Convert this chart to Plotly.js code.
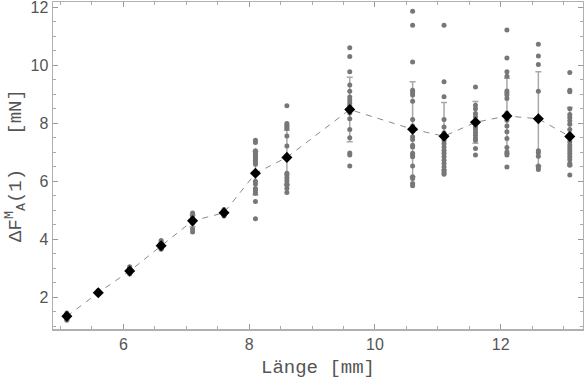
<!DOCTYPE html>
<html>
<head>
<meta charset="utf-8">
<script src="https://cdn.plot.ly/plotly-3.0.1.min.js"></script>
<style>html,body{margin:0;padding:0;background:#fff;}</style>
</head>
<body>
<div id="chart" style="width:584px;height:382px;"></div>
<script>
// Lengths (mm) where measurements were taken
const lengths = [5.1, 5.6, 6.1, 6.6, 7.1, 7.6, 8.1, 8.6, 9.6, 10.6, 11.1, 11.6, 12.1, 12.6, 13.1];
// Mean force change (mN) per length
const means = [1.34, 2.15, 2.90, 3.77, 4.63, 4.91, 6.27, 6.82, 8.47, 7.79, 7.55, 8.03, 8.25, 8.15, 7.54];
// Standard deviation per length
const sds = [0.08, 0.04, 0.08, 0.10, 0.20, 0.08, 0.75, 0.94, 1.11, 1.64, 1.16, 0.72, 1.30, 1.62, 1.00];

// Individual measurements per length
const pts_5_1 = [1.45, 1.40, 1.35, 1.30, 1.25, 1.20];
const pts_5_6 = [2.22, 2.18, 2.15, 2.12];
const pts_6_1 = [3.05, 3.00, 2.95, 2.90, 2.85, 2.80];
const pts_6_6 = [3.95, 3.88, 3.80, 3.75, 3.70, 3.65];
const pts_7_1 = [4.90, 4.80, 4.72, 4.65, 4.55, 4.35, 4.25];
const pts_7_6 = [5.02, 4.97, 4.92, 4.87, 4.80];
const pts_8_1 = [7.41, 7.33, 7.05, 6.98, 6.92, 6.85, 6.78, 6.72, 6.65, 6.58, 6.00, 5.90, 5.75, 5.66, 5.58, 5.30, 4.70];
const pts_8_6 = [8.60, 7.99, 7.93, 7.87, 7.82, 7.56, 7.21, 6.27, 6.21, 6.12, 6.02, 5.92, 5.86, 5.75, 5.61];
const pts_9_6 = [10.60, 10.30, 9.77, 9.32, 9.10, 8.90, 8.80, 8.70, 8.60, 8.50, 8.35, 8.15, 7.78, 7.50, 6.97, 6.90, 6.52];
const pts_10_6 = [11.86, 11.38, 10.11, 9.14, 9.06, 8.97, 8.76, 8.13, 7.90, 7.73, 7.53, 7.44, 7.24, 7.18, 6.96, 6.90, 6.84, 6.52, 6.15, 6.09, 5.92, 5.84];
const pts_11_1 = [11.38, 9.43, 8.91, 8.13, 7.87, 7.67, 7.55, 7.41, 7.30, 7.18, 7.07, 6.96, 6.84, 6.72, 6.61, 6.49, 6.36, 6.29, 6.24];
const pts_11_6 = [9.25, 8.62, 8.50, 8.33, 8.22, 8.00, 7.87, 7.78, 7.68, 7.58, 7.48, 7.40, 7.13, 6.90];
const pts_12_1 = [11.21, 10.25, 9.77, 9.62, 9.11, 9.04, 8.97, 8.85, 8.35, 8.10, 7.90, 7.70, 7.47, 7.16, 7.01, 6.90, 6.49];
const pts_12_6 = [10.72, 10.32, 10.02, 9.10, 7.05, 6.98, 6.86, 6.52, 6.47, 6.40];
const pts_13_1 = [9.75, 9.14, 9.08, 8.50, 8.30, 8.20, 8.08, 7.96, 7.78, 7.62, 7.36, 7.25, 7.15, 7.05, 6.95, 6.85, 6.75, 6.62, 6.55, 6.21];

const pointGroups = [pts_5_1, pts_5_6, pts_6_1, pts_6_6, pts_7_1, pts_7_6, pts_8_1, pts_8_6,
  pts_9_6, pts_10_6, pts_11_1, pts_11_6, pts_12_1, pts_12_6, pts_13_1];

const xTitle = 'Länge\u00a0[mm]';
const yTitle = 'ΔF<sup>M</sup><sub>A</sub>(1)\u00a0\u00a0\u00a0[mN]';

const dotX = [], dotY = [];
pointGroups.forEach((g, i) => g.forEach(v => { dotX.push(lengths[i]); dotY.push(v); }));

const traces = [
  {
    x: lengths, y: means, type: 'scatter', mode: 'markers',
    marker: {size: 1, color: 'rgba(0,0,0,0)'},
    error_y: {type: 'data', array: sds, visible: true, color: '#a8a8a8', thickness: 1.5, width: 3},
    hoverinfo: 'skip', showlegend: false
  },
  {
    x: dotX, y: dotY, type: 'scatter', mode: 'markers',
    marker: {size: 5, color: '#777777'},
    showlegend: false
  },
  {
    x: lengths, y: means, type: 'scatter', mode: 'lines+markers',
    line: {color: '#8a8a8a', width: 1, dash: '6px,6px'},
    marker: {symbol: 'diamond', size: 8.5, color: '#000000'},
    showlegend: false
  }
];

const axisCommon = {
  showgrid: false, zeroline: false,
  showline: true, linecolor: '#b0b0b0', linewidth: 1.5, mirror: 'allticks',
  ticks: 'inside', ticklen: 5, tickwidth: 1, tickcolor: '#999',
  ticklabeloverflow: 'allow',
  tickfont: {family: 'Liberation Sans, Arial, sans-serif', size: 16, color: '#555'},
  minor: {dtick: 0.5, ticks: 'inside', ticklen: 3, tickcolor: '#aaa', showgrid: false}
};

const titleFont = {family: 'Liberation Mono, Courier New, monospace', size: 19, color: '#555'};

const layout = {
  width: 584, height: 382,
  margin: {l: 53, r: 1, t: 2, b: 53},
  paper_bgcolor: '#fff', plot_bgcolor: '#fff',
  xaxis: Object.assign({}, axisCommon, {
    range: [4.88, 13.31], dtick: 2, tick0: 0,
    title: {text: xTitle, font: titleFont, standoff: 8}
  }),
  yaxis: Object.assign({}, axisCommon, {
    range: [0.9, 12.18], dtick: 2, tick0: 0,
    title: {text: yTitle, font: titleFont, standoff: 4}
  })
};

Plotly.newPlot('chart', traces, layout, {staticPlot: true, displayModeBar: false});
</script>
</body>
</html>
